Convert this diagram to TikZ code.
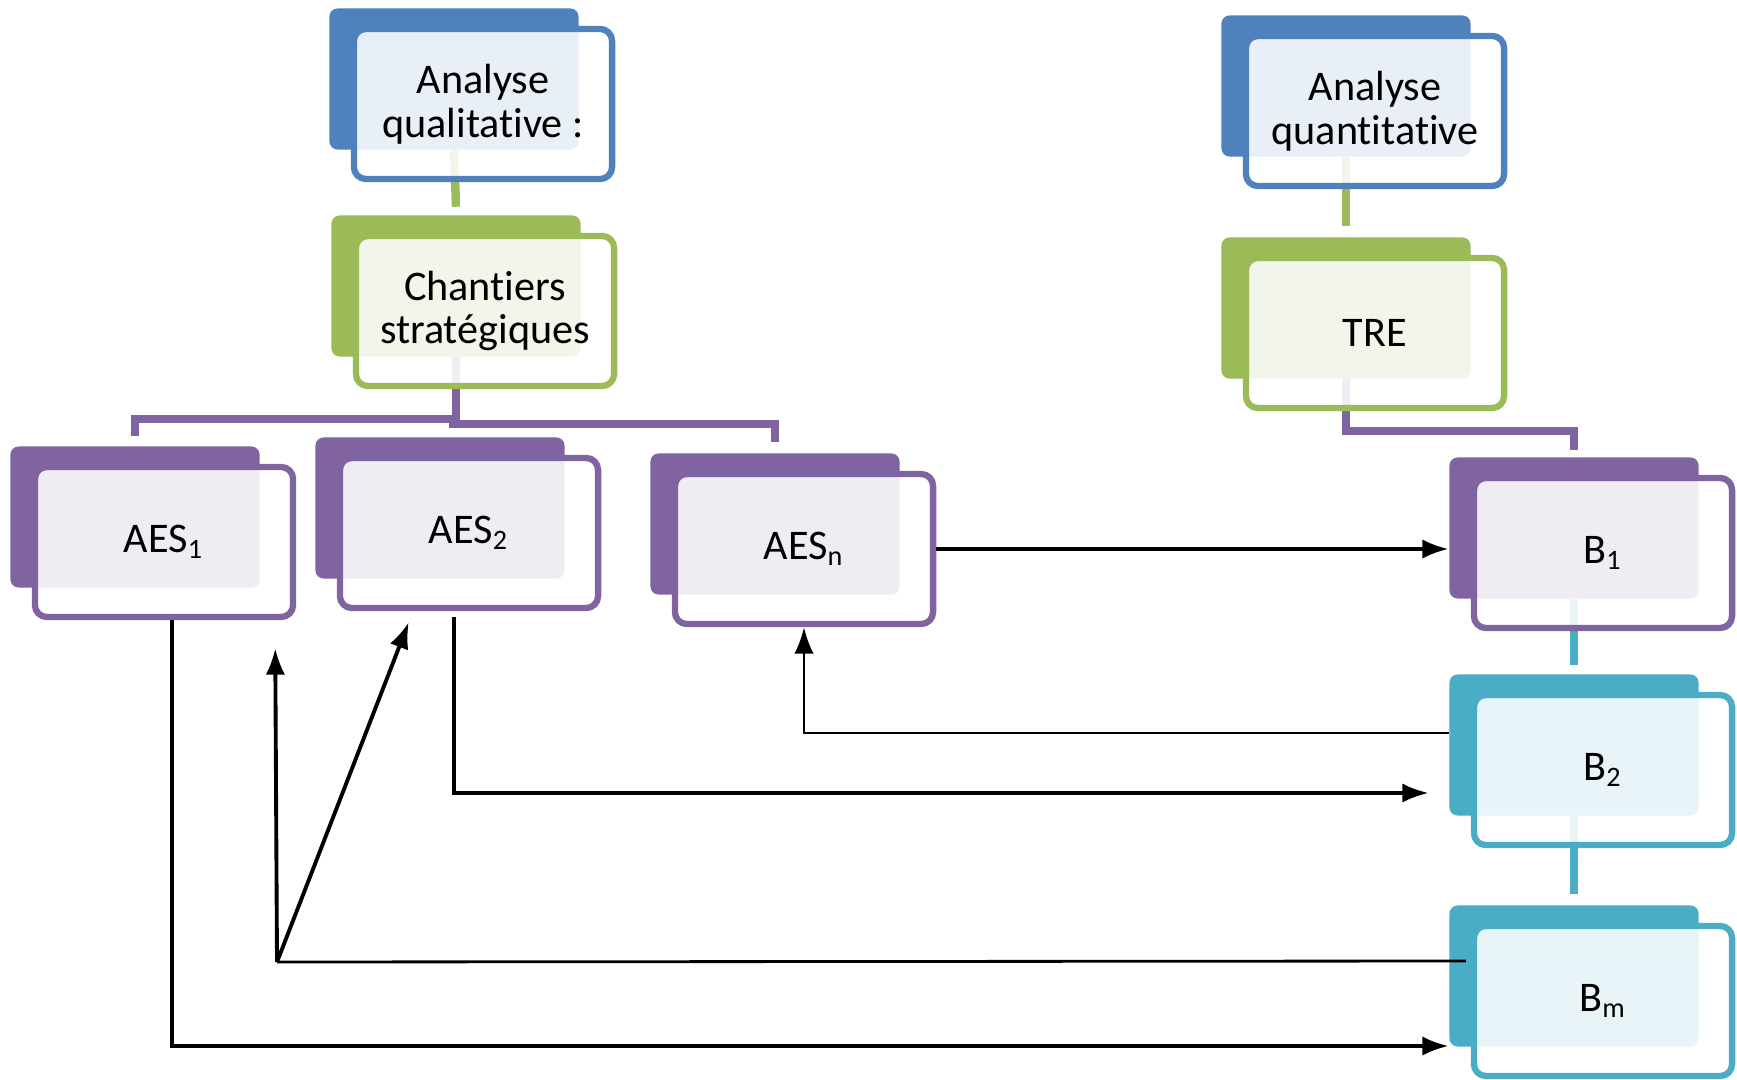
\documentclass[tikz,border=0pt]{standalone}
\usepackage{fontspec}
\setmainfont{Carlito}[Ligatures=NoCommon]
\usetikzlibrary{arrows.meta,backgrounds}

\definecolor{cardblue}{HTML}{4F81BD}
\definecolor{cardgreen}{HTML}{9BBB59}
\definecolor{cardpurple}{HTML}{8064A2}
\definecolor{cardaqua}{HTML}{4BACC6}

\tikzset{
  card/.style={draw=#1, line width=1.8pt, rounded corners=3.4pt, fill=white,
    fill opacity=0.88, text opacity=1, minimum width=2.58cm, minimum height=1.5cm,
    inner sep=0pt, align=center, font=\fontsize{12}{12.5}\selectfont},
  cardback/.style={fill=#1, rounded corners=2.3pt, minimum width=2.49cm,
    minimum height=1.41cm, inner sep=0pt},
  link/.style={draw=#1, line width=2.4pt},
  flow/.style={line width=0.8pt},
  arr/.style={-{Latex[length=7.5pt,width=5.5pt]}, line width=1.1pt},
}

\begin{document}
\begin{tikzpicture}[x=0.01cm,y=-0.01cm]
  \useasboundingbox (0,0) rectangle (1737,1080);

  % front cards
  \node[card=cardblue] (qual) at (483,104) {Analyse\\qualitative :};
  \node[card=cardgreen] (chan) at (485,311) {Chantiers\\stratégiques};
  \node[card=cardblue] (quant) at (1375,111) {Analyse\\quantitative};
  \node[card=cardgreen] (tre) at (1375,333) {TRE};
  \node[card=cardpurple] (aes1) at (164,542) {AES\textsubscript{1}};
  \node[card=cardpurple] (aes2) at (469,533) {AES\textsubscript{2}};
  \node[card=cardpurple] (aesn) at (804,549) {AES\textsubscript{n}};
  \node[card=cardpurple] (b1) at (1603,553) {B\textsubscript{1}};
  \node[card=cardaqua] (b2) at (1603,770) {B\textsubscript{2}};
  \node[card=cardaqua] (bm) at (1603,1001) {B\textsubscript{m}};

  \begin{pgfonlayer}{background}
    % back tabs
    \foreach \n/\c in {qual/cardblue, chan/cardgreen, quant/cardblue, tre/cardgreen,
        aes1/cardpurple, aes2/cardpurple, aesn/cardpurple, b1/cardpurple,
        b2/cardaqua, bm/cardaqua}
      \node[cardback=\c] (\n-back) at ([shift={(-29,-25)}]\n.center) {};

    % hierarchy links
    \draw[link=cardgreen] (qual-back.south) -- ([shift={(0,-8)}]chan-back.north);
    \draw[link=cardgreen] (quant-back.south) -- ([shift={(0,-11)}]tre-back.north);
    \draw[link=cardpurple] (chan-back.south) -- ++(0,62) -| ([shift={(0,-10)}]aes1-back.north);
    \draw[link=cardpurple] ([shift={(-7,67)}]chan-back.south) -| ([shift={(0,-11)}]aesn-back.north);
    \draw[link=cardpurple] (tre-back.south) -- ++(0,52) -| ([shift={(0,-7)}]b1-back.north);
    \draw[link=cardaqua] (b1-back.south) -- ([shift={(0,-9)}]b2-back.north);
    \draw[link=cardaqua] (b2-back.south) -- ([shift={(0,-11)}]bm-back.north);
  \end{pgfonlayer}

  % flows
  \coordinate (fork) at (277,962);
  \draw[arr] (aesn.east) -- (aesn.east -| b1-back.west);
  \draw[arr, flow] ([shift={(0,-12)}]b2-back.west) -| (aesn.south);
  \draw[arr] ([shift={(-15,6)}]aes2.south) |- ([shift={(-20,48)}]b2-back.west);
  \draw[flow] ([shift={(17,-15)}]bm-back.west) -- (fork);
  \draw[arr] (fork) -- ([shift={(-21,28)}]aes1.south east);
  \draw[arr] (fork) -- ([shift={(72,11)}]aes2.south west);
  \draw[arr] ([shift={(8,0)}]aes1.south) |- ([shift={(0,70)}]bm-back.west);
\end{tikzpicture}
\end{document}
